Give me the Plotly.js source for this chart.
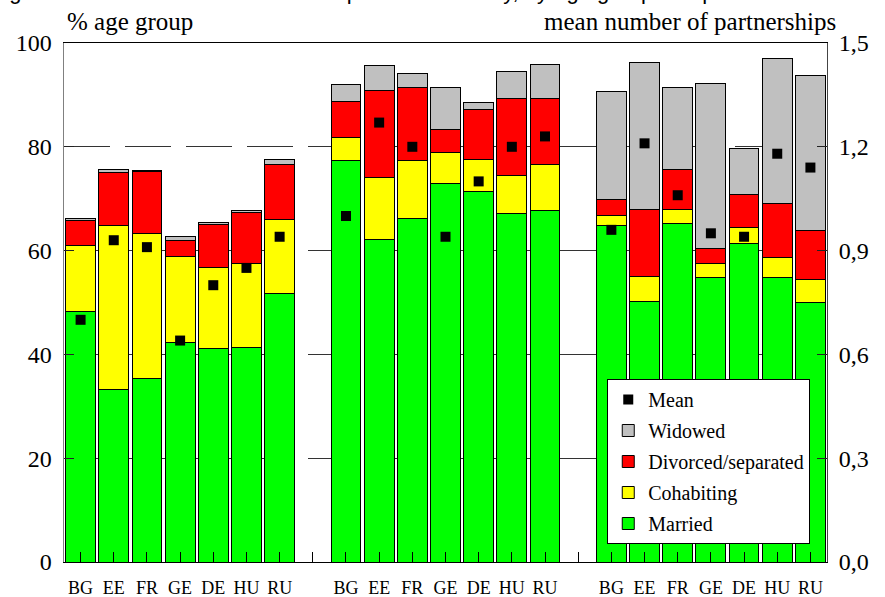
<!DOCTYPE html>
<html>
<head>
<meta charset="utf-8">
<script src="https://cdn.plot.ly/plotly-3.0.1.min.js"></script>
<style>html,body{margin:0;padding:0;background:#fff;}#chart{width:885px;height:597px;}</style>
</head>
<body>
<div id="chart"></div>
<script>
// Countries, repeated for each of the three age groups
const countries = ['BG','EE','FR','GE','DE','HU','RU'];
const groups = ['group1','group2','group3'];

// % of age group (stacked shares), 3 groups x 7 countries
const married     = [48.3,33.3,35.4,42.2,41.2,41.4,51.7,  77.3,62.1,66.2,72.9,71.4,67.2,67.7,  64.9,50.1,65.3,54.9,61.4,54.8,50.0];
const cohabiting  = [12.7,31.6,27.8,16.6,15.5,16.2,14.3,   4.4,12.0,11.1, 6.0, 6.1, 7.2, 8.8,   1.8, 4.9, 2.7, 2.7, 3.0, 3.8, 4.4];
const divorced    = [ 4.8,10.2,12.1, 3.1, 8.4, 9.8,10.5,   7.1,16.7,14.2, 4.4, 9.7,15.0,12.9,   3.1,12.9, 7.6, 2.9, 6.5,10.4, 9.4];
const widowed     = [ 0.3, 0.5, 0.2, 0.8, 0.3, 0.3, 1.0,   3.3, 4.8, 2.6, 8.1, 1.3, 5.1, 6.4,  20.8,28.3,15.8,31.7, 8.8,28.1,29.9];
// mean number of partnerships (right axis)
const meanPartnerships = [0.70,0.93,0.91,0.64,0.80,0.85,0.94,  1.00,1.27,1.20,0.94,1.10,1.20,1.23,  0.96,1.21,1.06,0.95,0.94,1.18,1.14];

const leftTicks = [0,20,40,60,80,100];
const rightTicks = [0,0.3,0.6,0.9,1.2,1.5];

// slot positions: 7 bars per group + one empty slot between groups
const slotsPerGroup = countries.length + 1;
const xs = [];
groups.forEach((g, gi) => countries.forEach((c, ci) => xs.push(gi * slotsPerGroup + ci)));
const nSlots = groups.length * slotsPerGroup - 1;
const tickvals = [], ticktext = [];
for (let i = 0; i < nSlots; i++) {
  tickvals.push(i);
  const ci = i % slotsPerGroup;
  ticktext.push(ci < countries.length ? countries[ci] : '');
}

const serif = '"Liberation Serif", "Times New Roman", serif';
const edge = {color: '#000', width: 1};
function barTrace(name, vals, color, rank) {
  return {type: 'bar', name: name, x: xs, y: vals, width: 0.9, legendgroup: name, legendrank: rank,
          marker: {color: color, line: edge}, hoverinfo: 'skip'};
}
const data = [
  barTrace('Married', married, '#00FF00', 5),
  barTrace('Cohabiting', cohabiting, '#FFFF00', 4),
  barTrace('Divorced/separated', divorced, '#FF0000', 3),
  barTrace('Widowed', widowed, '#C0C0C0', 2),
  {type: 'scatter', mode: 'markers', name: 'Mean', x: xs, y: meanPartnerships, yaxis: 'y2', legendgroup: 'Mean', legendrank: 1,
   marker: {symbol: 'square', size: 10, color: '#000'}, hoverinfo: 'skip'}
];

const layout = {
  width: 885, height: 597,
  margin: {l: 64, r: 58, t: 43, b: 35},
  paper_bgcolor: '#fff', plot_bgcolor: '#fff',
  barmode: 'stack',
  separators: ',.',
  showlegend: true,
  xaxis: {range: [-0.5, nSlots - 0.5], tickmode: 'array', tickvals: tickvals, ticktext: ticktext,
          ticks: 'inside', ticklen: 10, tickcolor: '#000', tickwidth: 1,
          showline: true, linecolor: '#000', linewidth: 1, mirror: true,
          showgrid: false, zeroline: false, ticklabelstandoff: 9,
          tickfont: {family: serif, size: 18, color: '#000'}},
  yaxis: {range: [0, 100], tickmode: 'array', tickvals: leftTicks,
          ticks: 'inside', ticklen: 10, tickcolor: '#222', tickwidth: 1,
          showgrid: true, gridcolor: '#333', gridwidth: 1, griddash: '46px,15px',
          showline: true, linecolor: '#808080', linewidth: 1.5, zeroline: false,
          ticklabelstandoff: 6,
          tickfont: {family: serif, size: 24, color: '#000'}},
  yaxis2: {range: [0, 1.5], overlaying: 'y', side: 'right', tickmode: 'array', tickvals: rightTicks,
           tickformat: '.1f', ticks: 'inside', ticklen: 10, tickcolor: '#222',
           showgrid: false, showline: true, linecolor: '#444', linewidth: 1, zeroline: false,
           ticklabelstandoff: 6,
           tickfont: {family: serif, size: 24, color: '#000'}},
  legend: {x: 0.712, y: 0.3526, xanchor: 'left', yanchor: 'top',
           bgcolor: '#fff', bordercolor: '#000', borderwidth: 1,
           traceorder: 'grouped', tracegroupgap: 2,
           font: {family: serif, size: 20, color: '#000'}},
  annotations: [
    // chart title, cut off at the top edge as in the source image
    {text: 'Figure 4. Living status and the current relationship in each country, by age group and partner status',
     xref: 'paper', yref: 'paper', x: 1.0157, y: 1.0, xanchor: 'right', yanchor: 'bottom', yshift: 37,
     showarrow: false, font: {family: '"Liberation Sans", Arial, sans-serif', size: 22, color: '#000'}},
    {text: '% age group', xref: 'paper', yref: 'paper', x: 0.001, y: 1.0, xanchor: 'left', yanchor: 'bottom',
     yshift: 6, showarrow: false, font: {family: serif, size: 25, color: '#000'}},
    {text: 'mean number of partnerships', xref: 'paper', yref: 'paper', x: 1.015, y: 1.0, xanchor: 'right', yanchor: 'bottom',
     yshift: 6, showarrow: false, font: {family: serif, size: 25, color: '#000'}}
  ]
};

Plotly.newPlot('chart', data, layout, {displayModeBar: false, staticPlot: true});
</script>
</body>
</html>
